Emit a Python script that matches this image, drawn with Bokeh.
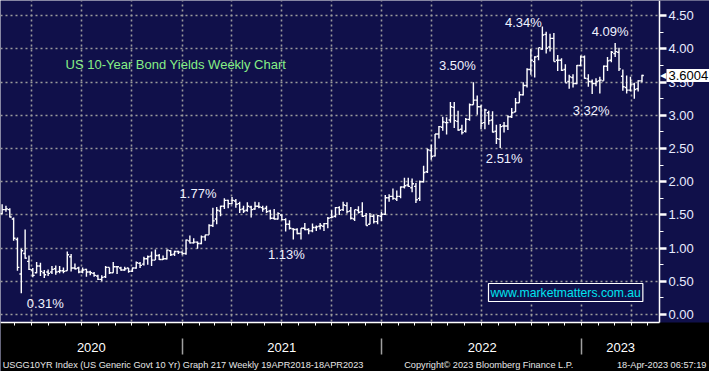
import pandas as pd
from bokeh.plotting import figure
from bokeh.models import (Range1d, LinearAxis, FixedTicker, Label, Grid,
                          NumeralTickFormatter, ColumnDataSource)
from bokeh.core.properties import value
from bokeh.embed import file_html
from bokeh.resources import INLINE

# ---------------- data (weekly OHLC of US 10Y yield, weeks ending Friday) ----------------
first_week = "2020-01-24"

ohlc_2020 = [
    (1.77, 1.78, 1.68, 1.68), (1.66, 1.67, 1.50, 1.51), (1.52, 1.66, 1.51, 1.58), (1.58, 1.64, 1.55, 1.59),
    (1.58, 1.60, 1.46, 1.47), (1.44, 1.46, 1.11, 1.15), (1.13, 1.16, 0.66, 0.71), (0.61, 0.99, 0.32, 0.96),
    (0.92, 1.28, 0.84, 0.85), (0.80, 0.89, 0.67, 0.68), (0.67, 0.70, 0.56, 0.59), (0.63, 0.79, 0.62, 0.73),
    (0.73, 0.78, 0.58, 0.65), (0.63, 0.67, 0.55, 0.60), (0.64, 0.68, 0.58, 0.62), (0.64, 0.73, 0.61, 0.68),
    (0.69, 0.74, 0.60, 0.64), (0.65, 0.73, 0.62, 0.66), (0.66, 0.71, 0.62, 0.65), (0.66, 0.95, 0.66, 0.90),
    (0.87, 0.91, 0.65, 0.70), (0.70, 0.77, 0.68, 0.69), (0.70, 0.72, 0.62, 0.64), (0.64, 0.71, 0.62, 0.67),
    (0.68, 0.69, 0.57, 0.64), (0.64, 0.66, 0.59, 0.63), (0.62, 0.64, 0.57, 0.59), (0.58, 0.60, 0.52, 0.53),
    (0.53, 0.59, 0.50, 0.56), (0.57, 0.73, 0.55, 0.71), (0.71, 0.71, 0.61, 0.63), (0.63, 0.79, 0.63, 0.72),
    (0.72, 0.73, 0.61, 0.72), (0.70, 0.72, 0.66, 0.67), (0.67, 0.72, 0.66, 0.69), (0.70, 0.70, 0.63, 0.65),
    (0.65, 0.71, 0.64, 0.70), (0.70, 0.80, 0.69, 0.78), (0.77, 0.79, 0.70, 0.74), (0.76, 0.87, 0.74, 0.84),
    (0.84, 0.89, 0.75, 0.87), (0.88, 0.95, 0.73, 0.82), (0.82, 0.98, 0.82, 0.89), (0.89, 0.91, 0.82, 0.83),
    (0.83, 0.89, 0.82, 0.84), (0.84, 0.98, 0.83, 0.97), (0.96, 0.97, 0.88, 0.90), (0.91, 0.96, 0.88, 0.95),
    (0.95, 0.96, 0.91, 0.94),
]
ohlc_2021 = [
    (0.94, 0.95, 0.90, 0.92), (0.92, 1.13, 0.90, 1.12), (1.11, 1.19, 1.07, 1.08), (1.08, 1.15, 1.07, 1.09),
    (1.09, 1.10, 0.99, 1.07), (1.07, 1.19, 1.06, 1.17), (1.17, 1.20, 1.11, 1.20), (1.20, 1.36, 1.20, 1.34),
    (1.34, 1.61, 1.32, 1.41), (1.44, 1.62, 1.36, 1.57), (1.56, 1.64, 1.48, 1.63), (1.63, 1.75, 1.59, 1.72),
    (1.72, 1.73, 1.60, 1.67), (1.67, 1.77, 1.66, 1.72), (1.71, 1.74, 1.61, 1.66), (1.67, 1.70, 1.53, 1.58),
    (1.59, 1.64, 1.53, 1.56), (1.57, 1.69, 1.55, 1.63), (1.62, 1.64, 1.46, 1.58), (1.59, 1.70, 1.58, 1.63),
    (1.63, 1.69, 1.60, 1.62), (1.61, 1.64, 1.55, 1.59), (1.60, 1.64, 1.53, 1.55), (1.56, 1.58, 1.43, 1.45),
    (1.45, 1.59, 1.43, 1.44), (1.44, 1.54, 1.43, 1.52), (1.50, 1.51, 1.42, 1.43), (1.43, 1.45, 1.25, 1.36),
    (1.36, 1.42, 1.28, 1.30), (1.29, 1.30, 1.13, 1.28), (1.28, 1.30, 1.21, 1.22), (1.22, 1.30, 1.13, 1.30),
    (1.30, 1.38, 1.27, 1.28), (1.28, 1.30, 1.21, 1.26), (1.26, 1.37, 1.24, 1.31), (1.31, 1.34, 1.26, 1.32),
    (1.33, 1.38, 1.28, 1.34), (1.33, 1.38, 1.26, 1.37), (1.37, 1.47, 1.30, 1.45), (1.46, 1.57, 1.45, 1.47),
    (1.48, 1.62, 1.46, 1.61), (1.61, 1.63, 1.50, 1.57), (1.58, 1.70, 1.56, 1.65), (1.64, 1.69, 1.52, 1.55),
    (1.56, 1.62, 1.43, 1.45), (1.44, 1.58, 1.41, 1.58), (1.57, 1.63, 1.52, 1.54), (1.55, 1.69, 1.47, 1.48),
    (1.49, 1.53, 1.34, 1.34), (1.36, 1.53, 1.36, 1.48), (1.48, 1.51, 1.37, 1.40), (1.40, 1.50, 1.36, 1.49),
    (1.48, 1.55, 1.41, 1.51),
]
ohlc_2022 = [
    (1.51, 1.80, 1.50, 1.76), (1.76, 1.81, 1.70, 1.78), (1.78, 1.90, 1.73, 1.75), (1.74, 1.87, 1.71, 1.78),
    (1.78, 1.93, 1.75, 1.92), (1.92, 2.06, 1.90, 1.94), (1.95, 2.06, 1.92, 1.93), (1.91, 2.05, 1.84, 1.97),
    (1.93, 1.98, 1.68, 1.73), (1.75, 2.02, 1.71, 2.00), (2.00, 2.24, 1.99, 2.14), (2.15, 2.50, 2.13, 2.48),
    (2.47, 2.56, 2.33, 2.38), (2.39, 2.72, 2.38, 2.72), (2.72, 2.84, 2.65, 2.83), (2.82, 2.98, 2.77, 2.90),
    (2.89, 2.97, 2.71, 2.89), (2.93, 3.20, 2.89, 3.13), (3.12, 3.20, 2.81, 2.92), (2.91, 3.07, 2.77, 2.78),
    (2.79, 2.86, 2.71, 2.74), (2.76, 2.96, 2.74, 2.94), (2.94, 3.18, 2.92, 3.16), (3.16, 3.50, 3.16, 3.23),
    (3.23, 3.30, 3.01, 3.13), (3.13, 3.16, 2.79, 2.88), (2.89, 3.10, 2.79, 3.08), (3.04, 3.07, 2.86, 2.92),
    (2.93, 3.06, 2.74, 2.75), (2.76, 2.86, 2.57, 2.65), (2.64, 2.87, 2.51, 2.83), (2.84, 2.90, 2.74, 2.84),
    (2.84, 3.00, 2.78, 2.98), (2.98, 3.11, 2.96, 3.04), (3.05, 3.26, 3.05, 3.19), (3.19, 3.36, 3.19, 3.31),
    (3.31, 3.50, 3.30, 3.45), (3.45, 3.71, 3.42, 3.69), (3.69, 4.00, 3.61, 3.83), (3.81, 3.89, 3.57, 3.88),
    (3.89, 4.02, 3.83, 4.02), (4.00, 4.34, 3.99, 4.21), (4.22, 4.26, 3.93, 4.01), (4.03, 4.23, 3.96, 4.16),
    (4.16, 4.24, 3.81, 3.81), (3.83, 3.91, 3.67, 3.83), (3.83, 3.86, 3.67, 3.68), (3.69, 3.77, 3.49, 3.49),
    (3.51, 3.61, 3.40, 3.58), (3.57, 3.62, 3.42, 3.48), (3.48, 3.76, 3.47, 3.75), (3.75, 3.90, 3.74, 3.88),
]
ohlc_2023 = [
    (3.88, 3.90, 3.55, 3.56), (3.55, 3.62, 3.43, 3.51), (3.51, 3.54, 3.32, 3.48), (3.48, 3.56, 3.44, 3.51),
    (3.52, 3.58, 3.33, 3.53), (3.52, 3.75, 3.52, 3.74), (3.74, 3.88, 3.67, 3.82), (3.83, 3.97, 3.80, 3.95),
    (3.93, 4.09, 3.88, 3.96), (3.95, 4.02, 3.67, 3.70), (3.59, 3.69, 3.37, 3.43), (3.42, 3.60, 3.33, 3.38),
    (3.38, 3.58, 3.36, 3.47), (3.47, 3.49, 3.25, 3.39), (3.40, 3.53, 3.36, 3.52), (3.52, 3.61, 3.50, 3.60),
]
last_value = 3.6004

y_ticks = [0.0, 0.5, 1.0, 1.5, 2.0, 2.5, 3.0, 3.5, 4.0, 4.5]
y_minor_ticks = [0.25, 0.75, 1.25, 1.75, 2.25, 2.75, 3.25, 3.75, 4.25]
year_names = ["2020", "2021", "2022", "2023"]
year_starts = ["2020-01-01", "2021-01-01", "2022-01-01", "2023-01-01"]
quarter_starts = ["2020-04-01", "2020-07-01", "2020-10-01", "2021-01-01", "2021-04-01", "2021-07-01",
                  "2021-10-01", "2022-01-01", "2022-04-01", "2022-07-01", "2022-10-01", "2023-01-01",
                  "2023-04-01"]
view_start, view_end = "2020-02-04", "2023-05-23"
y_view = (-0.12, 4.73)

annot_weeks = ["2020-03-13", "2021-04-02", "2021-07-23", "2022-06-17",
               "2022-08-05", "2022-10-21", "2023-01-20", "2023-03-03"]
annot_values = [0.31, 1.77, 1.13, 3.50, 2.51, 4.34, 3.32, 4.09]

chart_title = "US 10-Year Bond Yields Weekly Chart"
watermark = "www.marketmatters.com.au"
footer_texts = ["USGG10YR Index (US Generic Govt 10 Yr) Graph 217  Weekly 19APR2018-18APR2023",
                "Copyright\u00a9 2023 Bloomberg Finance L.P.",
                "18-Apr-2023 06:57:19"]

# ---------------- styles / layout (pixels) ----------------
W, H = 709, 371
PLOT_W, PLOT_H = 659, 322          # chart area inside the canvas
NAVY = "#10104a"
GRID = "#9c9c9c"
FONT = "Liberation Sans"
annot_dx = [24, -34, -7, -16, 4, -19, -1, -5]
annot_dy = [10, -4, 15, -17, 11, -4, 16, -11]
footer_centers_px = [184, 488, 661]
SEP_LEN = 16

origin = pd.Timestamp("2020-01-01")


def day(s):
    return (pd.Timestamp(s) - origin).days


x0, x1 = day(view_start), day(view_end)
ylo, yhi = y_view
px_day = PLOT_W / (x1 - x0)
px_unit = PLOT_H / (yhi - ylo)


def x_at(px):      # canvas px from left -> data x
    return x0 + px / px_day


def y_at(py):      # canvas px from top -> data y
    return yhi - py / px_unit


ohlc = ohlc_2020 + ohlc_2021 + ohlc_2022 + ohlc_2023
x = [day(first_week) + 7 * i for i in range(len(ohlc))]
tick_w = 3.4  # days
src = ColumnDataSource(dict(
    x=x, xl=[v - tick_w for v in x], xr=[v + tick_w for v in x],
    o=[r[0] for r in ohlc], h=[r[1] for r in ohlc], l=[r[2] for r in ohlc], c=[r[3] for r in ohlc],
))

p = figure(width=W, height=H, output_backend="svg", toolbar_location=None,
           x_axis_type=None, y_axis_type=None,
           x_range=Range1d(x0, x_at(W)), y_range=Range1d(y_at(H), yhi),
           min_border_left=0, min_border_top=0, min_border_right=0, min_border_bottom=0,
           background_fill_color=NAVY, border_fill_color="black", outline_line_color=None)

# grids
p.add_layout(Grid(dimension=0, ticker=FixedTicker(ticks=[day(q) for q in quarter_starts]),
                  grid_line_color=GRID, grid_line_width=1.6, grid_line_dash="2 3"))
p.add_layout(Grid(dimension=1, ticker=FixedTicker(ticks=y_ticks),
                  grid_line_color=GRID, grid_line_width=1.6, grid_line_dash="2 3"))

# panels outside the chart area: navy strip behind the value axis, black strip below
p.quad(left=[x_at(PLOT_W)], right=[x_at(W)], bottom=[ylo], top=[yhi],
       fill_color=NAVY, line_color=None)
p.quad(left=[x_at(0)], right=[x_at(W)], bottom=[y_at(H)], top=[ylo],
       fill_color="black", line_color=None)

# OHLC bars
bar_kw = dict(source=src, line_color="white", line_width=1.4)
p.segment(x0="x", y0="l", x1="x", y1="h", **bar_kw)
p.segment(x0="xl", y0="o", x1="x", y1="o", **bar_kw)
p.segment(x0="x", y0="c", x1="xr", y1="c", **bar_kw)

# value annotations
p.text(x=[day(d) for d in annot_weeks], y=annot_values,
       text=[f"{v:.2f}%" for v in annot_values],
       x_offset=annot_dx, y_offset=annot_dy,
       text_align="center", text_baseline="middle", text_color="#f0f2ff",
       text_font=value(FONT), text_font_size="13px")

# right value axis
yax = LinearAxis(fixed_location=x1, bounds=(ylo, yhi),
                 ticker=FixedTicker(ticks=y_ticks, minor_ticks=y_minor_ticks),
                 formatter=NumeralTickFormatter(format="0.00"),
                 axis_line_color="white", axis_line_width=1.5,
                 major_tick_in=0, major_tick_out=7, major_tick_line_color="white", major_tick_line_width=2.5,
                 minor_tick_in=0, minor_tick_out=4, minor_tick_line_color="white", minor_tick_line_width=1,
                 major_label_text_color="#e8ecff", major_label_text_font=FONT,
                 major_label_text_font_size="13px", major_label_standoff=2)
p.add_layout(yax, "right")

# bottom axis: monthly ticks
month_ticks = [day(m) for m in pd.date_range("2020-02-01", "2023-05-01", freq="MS")]
xax = LinearAxis(fixed_location=ylo, bounds=(x0, x1), ticker=FixedTicker(ticks=month_ticks),
                 axis_line_color="white", axis_line_width=1.5,
                 major_tick_in=0, major_tick_out=3, major_tick_line_color="white", major_tick_line_width=1,
                 minor_tick_line_color=None,
                 major_label_text_font_size="0px", major_label_text_color=None)
p.add_layout(xax, "below")

# bottom axis: year labels with separators
ys = [day(s) for s in year_starts]
bounds = [x0] + ys[1:] + [x1]
year_centers = [int(round((bounds[i] + bounds[i + 1]) / 2)) for i in range(len(year_names))]
yrax = LinearAxis(fixed_location=y_at(338),
                  ticker=FixedTicker(ticks=year_centers, minor_ticks=ys[1:]),
                  axis_line_color=None, major_tick_line_color=None, major_tick_out=0, major_tick_in=0,
                  minor_tick_in=0, minor_tick_out=SEP_LEN, minor_tick_line_color="#a0a0a0",
                  minor_tick_line_width=1.5,
                  major_label_overrides={c: n for c, n in zip(year_centers, year_names)},
                  major_label_text_color="white", major_label_text_font=FONT,
                  major_label_text_font_size="13px", major_label_standoff=4 - SEP_LEN)
p.add_layout(yrax, "below")

# footer line
footer_ticks = [int(round(x_at(px))) for px in footer_centers_px]
fax = LinearAxis(fixed_location=y_at(356), ticker=FixedTicker(ticks=footer_ticks),
                 axis_line_color=None, major_tick_line_color=None, minor_tick_line_color=None,
                 major_tick_out=0, major_tick_in=0,
                 major_label_overrides={t: s for t, s in zip(footer_ticks, footer_texts)},
                 major_label_text_color="#e6e6e6", major_label_text_font=FONT,
                 major_label_text_font_size="9.2px", major_label_standoff=3)
p.add_layout(fax, "below")

# last value tag
p.add_layout(Label(x=659.5, y=last_value, x_units="screen", y_units="data",
                   text="\u25c0", text_color="white", text_font="DejaVu Sans",
                   text_font_size="8px", text_baseline="middle"))
p.add_layout(Label(x=666, y=last_value, x_units="screen", y_units="data",
                   text=f"{last_value:.4f}", text_color="black", text_font=FONT,
                   text_font_size="13px", text_baseline="middle",
                   background_fill_color="white", padding=2))

# title
p.add_layout(Label(x=65, y=H - 64, x_units="screen", y_units="screen",
                   text=chart_title, text_color="#86ee86", text_font=FONT,
                   text_font_size="13px", text_baseline="middle"))

# watermark box
p.add_layout(Label(x=488, y=H - 301, x_units="screen", y_units="screen",
                   text=watermark, text_color="#00e4f0", text_font=FONT, text_font_size="12.2px",
                   text_baseline="bottom", background_fill_color=NAVY,
                   border_line_color="white", border_line_width=1.2, padding=2))

open("out.html", "w").write(file_html(p, INLINE))
